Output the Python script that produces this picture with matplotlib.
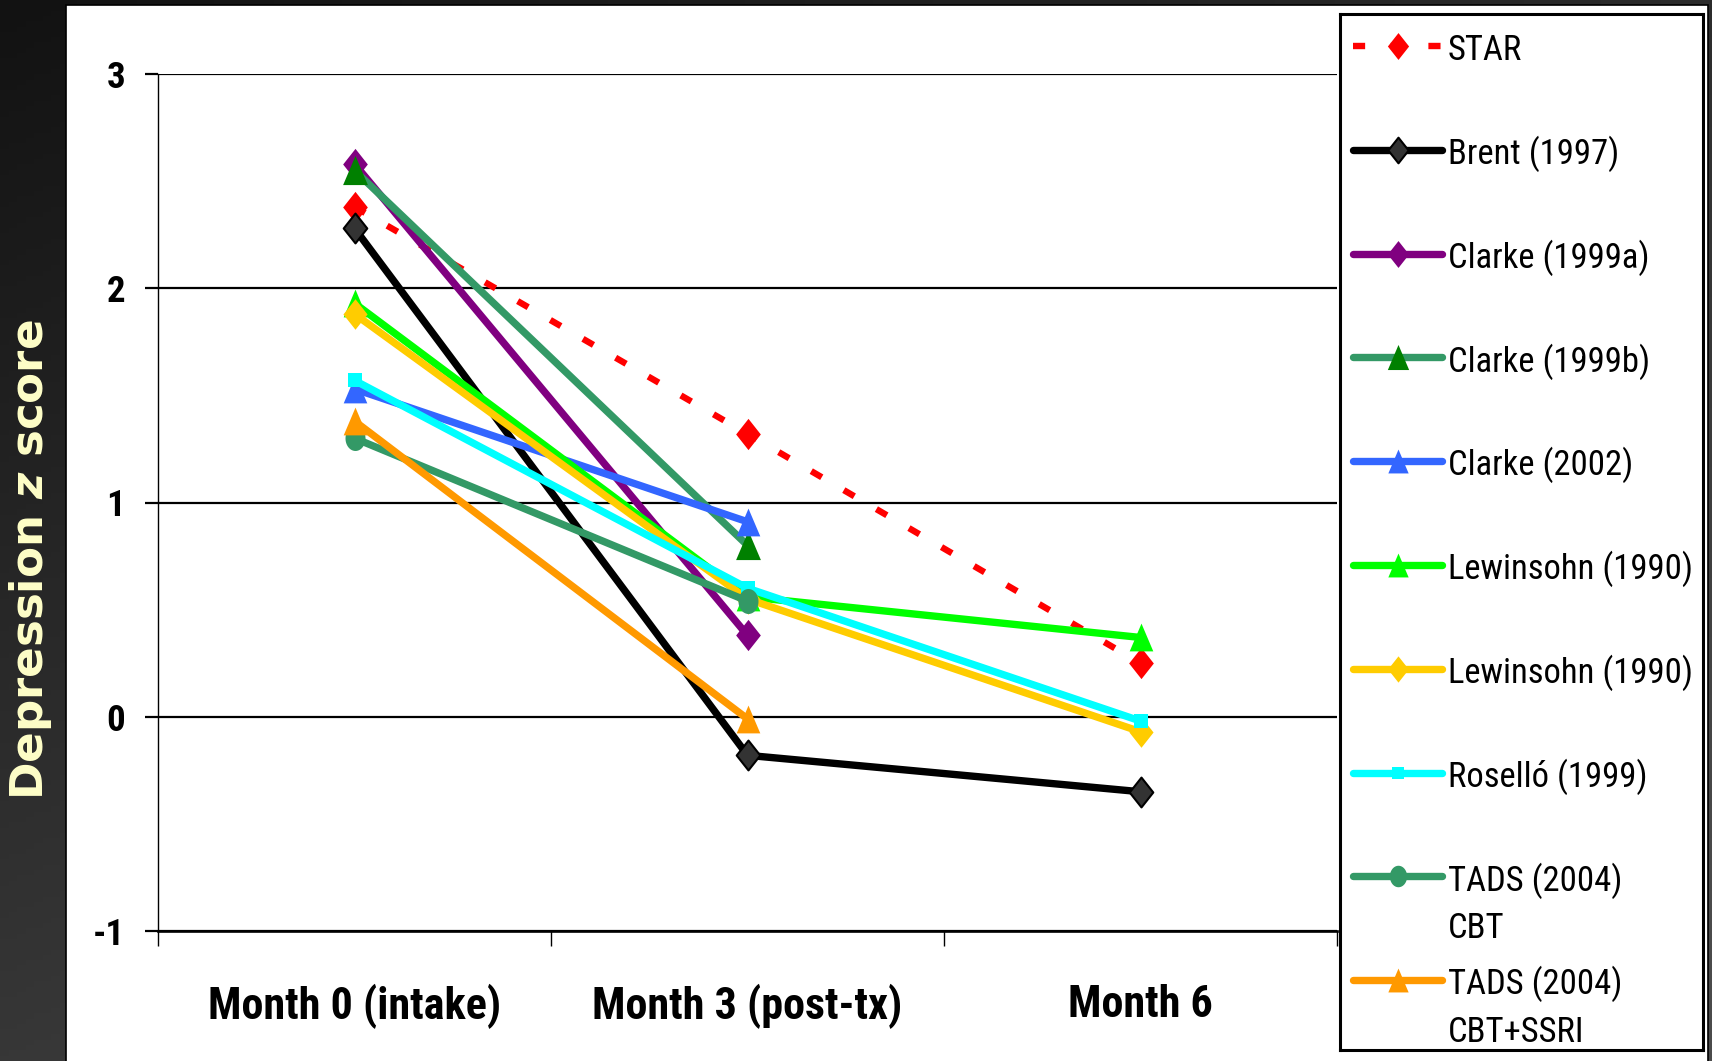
import os
import numpy as np
import matplotlib
matplotlib.use("Agg")
import matplotlib.pyplot as plt
from matplotlib import font_manager as fm
from matplotlib.patches import Rectangle
from matplotlib.path import Path
from matplotlib.textpath import TextPath
from matplotlib.colors import LinearSegmentedColormap
from matplotlib.ticker import FixedLocator, NullFormatter

# ---------------- data ----------------
months = ["Month 0 (intake)", "Month 3 (post-tx)", "Month 6"]
y_ticks = [-1, 0, 1, 2, 3]

star = [2.38, 1.32, 0.25]
brent_1997 = [2.28, -0.18, -0.35]
clarke_1999a = [2.58, 0.38, np.nan]
clarke_1999b = [2.55, 0.80, np.nan]
clarke_2002 = [1.53, 0.91, np.nan]
lewinsohn_1990_a = [1.93, 0.56, 0.37]
lewinsohn_1990_b = [1.88, 0.55, -0.07]
rosello_1999 = [1.57, 0.60, -0.02]
tads_cbt = [1.30, 0.54, np.nan]
tads_cbt_ssri = [1.38, -0.01, np.nan]

series_values = [star, brent_1997, clarke_1999a, clarke_1999b, clarke_2002,
                 lewinsohn_1990_a, lewinsohn_1990_b, rosello_1999,
                 tads_cbt, tads_cbt_ssri]
series_labels = ["STAR", "Brent (1997)", "Clarke (1999a)", "Clarke (1999b)",
                 "Clarke (2002)", "Lewinsohn (1990)", "Lewinsohn (1990)",
                 "Roselló (1999)", "TADS (2004)\nCBT", "TADS (2004)\nCBT+SSRI"]

plt.rcParams["axes.unicode_minus"] = False
plt.rcParams["mathtext.fontset"] = "dejavusans"


# ---------------- fonts: prefer a narrow sans face ----------------
def _weight(f):
    w = f.weight
    if isinstance(w, str):
        w = fm.weight_dict.get(w, 400)
    return int(w)


def narrow_font(bold):
    prefs = ["liberation sans narrow", "roboto condensed", "open sans condensed",
             "noto sans", "dejavu sans", "liberation sans", "roboto", "open sans",
             "lato", "inter"]
    best = None
    for f in fm.fontManager.ttflist:
        nm = f.name.lower()
        fn = os.path.basename(f.fname).lower()
        is_narrow = ("narrow" in nm or "condensed" in nm or "narrow" in fn
                     or "condensed" in fn
                     or str(f.stretch) in ("condensed", "semi-condensed",
                                           "extra-condensed"))
        if not is_narrow or "mono" in nm or "mono" in fn or "serif" in fn.replace("sans", ""):
            continue
        if f.style != "normal" or "italic" in fn or "oblique" in fn:
            continue
        if (_weight(f) >= 700) != bold:
            continue
        if bold and _weight(f) > 800:
            continue
        if not bold and _weight(f) < 400:
            continue
        rank = next((i for i, p in enumerate(prefs) if nm.startswith(p)), len(prefs))
        if best is None or rank < best[0]:
            best = (rank, f.fname)
    if best is not None:
        return fm.FontProperties(fname=best[1])
    return fm.FontProperties(family="Liberation Sans",
                             weight="bold" if bold else "normal")


FP_BOLD = narrow_font(True)
FP_REG = narrow_font(False)

# ---------------- marker shapes ----------------
def closed(verts):
    verts = list(verts) + [verts[0]]
    codes = [Path.MOVETO] + [Path.LINETO] * (len(verts) - 2) + [Path.CLOSEPOLY]
    return Path(verts, codes)


_t = np.linspace(0, 2 * np.pi, 48, endpoint=False)
DIAMOND = closed([(0, 1), (0.79, 0), (0, -1), (-0.79, 0)])
TRIANGLE = closed([(0, 1), (0.85, -1), (-0.85, -1)])
SQUARE = closed([(-0.93, -1), (0.93, -1), (0.93, 1), (-0.93, 1)])
OVAL = closed(list(zip(0.8 * np.sin(_t), np.cos(_t))))

LW = 5.3
styles = [
    dict(color="#FF0000", lw=4.6, ls=(0, (1.9, 4.0)), marker=DIAMOND, ms=22.5,
         mfc="#FF0000", mec="#FF0000", mew=0),
    dict(color="#000000", lw=LW, ls="-", marker=DIAMOND, ms=21.5,
         mfc="#333333", mec="#000000", mew=1.5),
    dict(color="#800080", lw=LW, ls="-", marker=DIAMOND, ms=22.5,
         mfc="#800080", mec="#800080", mew=0),
    dict(color="#339966", lw=LW, ls="-", marker=TRIANGLE, ms=21,
         mfc="#008000", mec="#008000", mew=0),
    dict(color="#3366FF", lw=LW, ls="-", marker=TRIANGLE, ms=20,
         mfc="#3366FF", mec="#3366FF", mew=0),
    dict(color="#00FF00", lw=LW, ls="-", marker=TRIANGLE, ms=20,
         mfc="#00FF00", mec="#00FF00", mew=0),
    dict(color="#FFCC00", lw=LW, ls="-", marker=DIAMOND, ms=22,
         mfc="#FFCC00", mec="#FFCC00", mew=0),
    dict(color="#00FFFF", lw=LW, ls="-", marker=SQUARE, ms=10.5,
         mfc="#00FFFF", mec="#00FFFF", mew=0),
    dict(color="#339966", lw=LW, ls="-", marker=OVAL, ms=18,
         mfc="#339966", mec="#339966", mew=0),
    dict(color="#FF9900", lw=LW, ls="-", marker=TRIANGLE, ms=20,
         mfc="#FF9900", mec="#FF9900", mew=0),
]

# ---------------- figure & background ----------------
W, H = 1712, 1061
DPI = 100
fig = plt.figure(figsize=(W / DPI, H / DPI), dpi=DPI)
renderer = fig.canvas.get_renderer()


def size_for_width(text, fp, width_px, max_pt):
    """Font size (pt) at which `text` in `fp` is `width_px` wide, capped."""
    probe = fp.copy()
    probe.set_size(40)
    t = fig.text(0, 0, text, fontproperties=probe)
    w = t.get_window_extent(renderer).width
    t.remove()
    return min(max_pt, 40 * width_px / w)


def size_for_glyph_height(text, fp, height_px):
    """Font size (pt) at which the ink of `text` is `height_px` tall."""
    ink = TextPath((0, 0), text, size=100, prop=fp).get_extents().height / 100
    return height_px * 72 / DPI / ink


bg = fig.add_axes([0, 0, 1, 1], zorder=-10)
yy, xx = np.mgrid[0:1:200j, 0:1:200j]
grad = np.clip(0.65 * yy + 0.45 * xx, 0, 1)
cmap = LinearSegmentedColormap.from_list("slide", ["#121212", "#4b4b4b"])
bg.imshow(grad, extent=[0, 1, 0, 1], aspect="auto", cmap=cmap, origin="upper",
          vmin=0, vmax=1)
bg.set_xlim(0, 1)
bg.set_ylim(0, 1)
bg.axis("off")

# white slide panel
panel_l, panel_r, panel_t = 66, 1708, 5
fig.patches.append(Rectangle((panel_l / W, -0.02), (panel_r - panel_l) / W,
                             1 - panel_t / H + 0.02, transform=fig.transFigure,
                             facecolor="white", edgecolor="black", lw=1.2,
                             zorder=-5))

# ---------------- main axes ----------------
ax_l, ax_r, ax_t, ax_b = 158, 1337, 74, 931
ax = fig.add_axes([ax_l / W, (H - ax_b) / H, (ax_r - ax_l) / W, (ax_b - ax_t) / H])
ax.set_facecolor("none")
x = np.arange(len(months))

for vals, st in zip(series_values, styles):
    ax.plot(x, vals, color=st["color"], lw=st["lw"], ls=st["ls"],
            marker=st["marker"], ms=st["ms"], mfc=st["mfc"], mec=st["mec"],
            mew=st["mew"], dash_capstyle="butt", solid_capstyle="butt",
            clip_on=False, zorder=3)

ax.set_xlim(-0.5, len(months) - 0.5)
ax.set_ylim(-1, 3)

ytick_fp = FP_BOLD.copy()
ytick_fp.set_size(min(size_for_glyph_height("3", FP_BOLD, 27), 32))
ax.set_yticks(y_ticks)
ax.set_yticklabels([str(v) for v in y_ticks], fontproperties=ytick_fp)
ax.yaxis.grid(True, color="black", lw=1.6)
ax.set_axisbelow(True)
ax.tick_params(axis="y", direction="out", length=9.5, width=1.6, pad=14,
               color="black")

xtick_fp = FP_BOLD.copy()
xtick_fp.set_size(size_for_width(months[0], FP_BOLD, 293, 34))
ax.xaxis.set_major_locator(FixedLocator(np.arange(-0.5, len(months), 1.0)))
ax.xaxis.set_major_formatter(NullFormatter())
ax.xaxis.set_minor_locator(FixedLocator(x))
ax.set_xticklabels(months, minor=True, fontproperties=xtick_fp)
ax.tick_params(axis="x", which="major", direction="out", length=11, width=1.0)
ax.tick_params(axis="x", which="minor", length=0, pad=38)

for side in ("top", "right"):
    ax.spines[side].set_visible(False)
ax.spines["left"].set_linewidth(1.0)
ax.spines["bottom"].set_linewidth(1.9)

# y-axis title on the dark strip
fig.text(31 / W, 1 - 560 / H, r"Depression $\mathbfit{z}$ score", rotation=90,
         ha="center", va="center", color="#FFFFC8", fontsize=32.5,
         fontfamily="DejaVu Sans", fontweight="bold")

# ---------------- legend box ----------------
lg_l, lg_r, lg_t, lg_b = 1340, 1703, 14, 1050
lg = fig.add_axes([lg_l / W, (H - lg_b) / H, (lg_r - lg_l) / W, (lg_b - lg_t) / H])
lg.set_xlim(0, lg_r - lg_l)
lg.set_ylim(lg_b - lg_t, 0)
lg.set_xticks([])
lg.set_yticks([])
lg.set_facecolor("white")
for sp in lg.spines.values():
    sp.set_linewidth(2.2)
    sp.set_color("black")

legend_fp = FP_REG.copy()
legend_fp.set_size(min(size_for_width("Brent (1997)", FP_REG, 172, 28),
                       size_for_width("Lewinsohn (1990)", FP_REG, 245, 28)))

row0, row_step, line_step = 32, 103.8, 48
h_x0, h_x1, txt_x = 13, 102, 108
for i, (label, st) in enumerate(zip(series_labels, styles)):
    yc = row0 + row_step * i
    lg.plot([h_x0, h_x1], [yc, yc], color=st["color"], lw=st["lw"], ls=st["ls"],
            dash_capstyle="butt", solid_capstyle="round", clip_on=False)
    lg.plot([(h_x0 + h_x1) / 2], [yc], ls="none", marker=st["marker"],
            ms=st["ms"] * 0.86, mfc=st["mfc"], mec=st["mec"], mew=st["mew"],
            clip_on=False)
    for k, part in enumerate(label.split("\n")):
        lg.text(txt_x, yc + 14 + line_step * k, part, ha="left", va="baseline",
                fontproperties=legend_fp, color="black")

fig.savefig("out.png", dpi=DPI)
